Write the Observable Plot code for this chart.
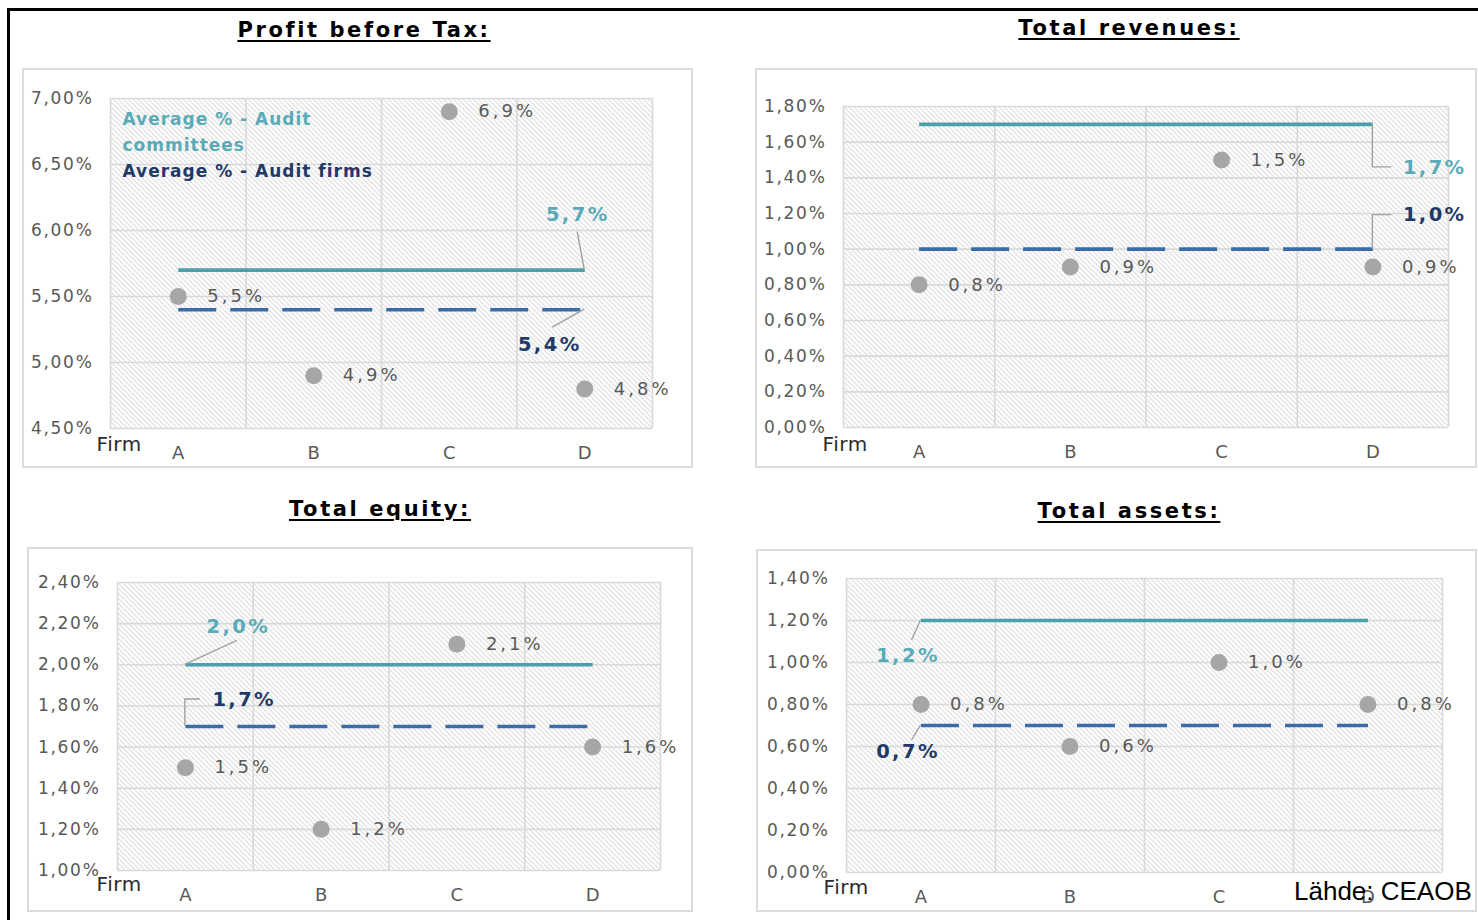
<!DOCTYPE html>
<html>
<head>
<meta charset="utf-8">
<script src="https://cdn.jsdelivr.net/npm/d3@7"></script>
<script src="https://cdn.jsdelivr.net/npm/@observablehq/plot@0.6"></script>
<style>
  html, body { margin: 0; padding: 0; background: #fff; }
  body { width: 1478px; height: 920px; position: relative; overflow: hidden; font-family: "DejaVu Sans", sans-serif; }
  .frame { position: absolute; left: 7px; top: 8px; width: 1500px; height: 940px; border-left: 3px solid #000; border-top: 3px solid #000; }
  .title { position: absolute; transform: translateX(-50%); font-weight: bold; font-size: 21px; line-height: 24px; letter-spacing: 2.6px; white-space: nowrap; color: #000; text-decoration: underline; text-decoration-thickness: 2px; text-underline-offset: 3px; }
  .panel { position: absolute; outline: 2px solid #dcdcdc; outline-offset: -2px; }
  .source { position: absolute; left: 1294px; top: 876px; font-family: "Liberation Sans", Arial, sans-serif; font-size: 26px; color: #000; white-space: nowrap; }
  g[aria-label="y-axis tick label"] text { letter-spacing: 1.7px; }
  text[aria-label="point-label"] { letter-spacing: 3px; }
  text[aria-label="average-label"] { letter-spacing: 2.4px; }
  text[aria-label="legend"] { letter-spacing: 1px; }
  text[aria-label="axis-name"] { letter-spacing: 0.6px; }
</style>
</head>
<body>
<div class="frame"></div>
<script>
// Firms on the horizontal axis
const firms = ["A", "B", "C", "D"];
const titles = ["Profit before Tax:", "Total revenues:", "Total equity:", "Total assets:"];
const legendLabels = ["Average % - Audit committees", "Average % - Audit firms"];
const axisName = "Firm";
const sourceText = "Lähde: CEAOB";

// Profit before tax, % per firm and the two averages
const profitFirms = [5.5, 4.9, 6.9, 4.8];
const profitCommittees = 5.7;
const profitAuditFirms = 5.4;
const profitTicks = [4.5, 5.0, 5.5, 6.0, 6.5, 7.0];

// Total revenues
const revenueFirms = [0.8, 0.9, 1.5, 0.9];
const revenueCommittees = 1.7;
const revenueAuditFirms = 1.0;
const revenueTicks = [0, 0.2, 0.4, 0.6, 0.8, 1.0, 1.2, 1.4, 1.6, 1.8];

// Total equity
const equityFirms = [1.5, 1.2, 2.1, 1.6];
const equityCommittees = 2.0;
const equityAuditFirms = 1.7;
const equityTicks = [1.0, 1.2, 1.4, 1.6, 1.8, 2.0, 2.2, 2.4];

// Total assets
const assetsFirms = [0.8, 0.6, 1.0, 0.8];
const assetsCommittees = 1.2;
const assetsAuditFirms = 0.7;
const assetsTicks = [0, 0.2, 0.4, 0.6, 0.8, 1.0, 1.2, 1.4];

const teal = "#4e9fac", tealText = "#5aabb8";
const blue = "#3a6da8", navyText = "#1f3a68";
const grid = "#d9d9d9", dotGray = "#a6a6a6", labelGray = "#595959";

const fmtTick = v => v.toFixed(2).replace(".", ",") + "%";
const fmtVal = v => v.toFixed(1).replace(".", ",") + "%";
const tag = name => () => name;

// Layout of each panel: box on the page, plot margins, annotation offsets (px)
const panels = [
  {
    title: titles[0], titleX: 364, titleY: 30,
    values: profitFirms, committee: profitCommittees, auditFirm: profitAuditFirms, ticks: profitTicks,
    box: {left: 22, top: 68, w: 671, h: 400}, m: {t: 30, r: 41, b: 40, l: 88},
    nameDx: -14, nameDy: 22, legend: true,
    teal: {at: 4, dx: -7, dy: -55, anchor: "middle", leader: [[0, 0], [-7, -38]]},
    navy: {at: 4, dx: -35, dy: 35, anchor: "middle", leader: [[0, 0], [-32, 18]]}
  },
  {
    title: titles[1], titleX: 1129, titleY: 28,
    values: revenueFirms, committee: revenueCommittees, auditFirm: revenueAuditFirms, ticks: revenueTicks,
    box: {left: 755, top: 68, w: 722, h: 400}, m: {t: 38, r: 29, b: 41, l: 88},
    nameDx: -21, nameDy: 23,
    teal: {at: 4, dx: 30, dy: 43, anchor: "start", leader: [[0, 0], [0, 43], [19, 43]]},
    navy: {at: 4, dx: 30, dy: -34, anchor: "start", leader: [[0, 0], [0, -34], [19, -34]]}
  },
  {
    title: titles[2], titleX: 380, titleY: 509,
    values: equityFirms, committee: equityCommittees, auditFirm: equityAuditFirms, ticks: equityTicks,
    box: {left: 27, top: 547, w: 666, h: 365}, m: {t: 35, r: 33, b: 42, l: 90},
    nameDx: -21, nameDy: 20,
    teal: {at: 1, dx: 53, dy: -38, anchor: "middle", leader: [[0, 0], [52, -24]]},
    navy: {at: 1, dx: 27, dy: -27, anchor: "start", leader: [[0, 0], [0, -27], [15, -27]]}
  },
  {
    title: titles[3], titleX: 1129, titleY: 511,
    values: assetsFirms, committee: assetsCommittees, auditFirm: assetsAuditFirms, ticks: assetsTicks,
    box: {left: 756, top: 549, w: 721, h: 363}, m: {t: 29, r: 35, b: 40, l: 90},
    nameDx: -23, nameDy: 21,
    teal: {at: 1, dx: -13, dy: 35, anchor: "middle", leader: [[0, 0], [-9, 20]]},
    navy: {at: 1, dx: -13, dy: 26, anchor: "middle", leader: [[0, 0], [-9, 15]]}
  }
];

panels.forEach((p, k) => {
  const t = document.createElement("div");
  t.className = "title";
  t.textContent = p.title;
  t.style.left = p.titleX + "px";
  t.style.top = (p.titleY - 12) + "px";
  document.body.appendChild(t);

  const pts = p.values.map((v, i) => ({i: i + 1, firm: firms[i], v}));
  const xs = firms.map((f, i) => i + 1);
  const bounds = [0.5, ...xs.map(x => x + 0.5)];
  const committeeLine = [{v: p.committee}];
  const auditFirmLine = [{v: p.auditFirm}];
  const ann = [
    {...p.teal, v: p.committee, fill: tealText},
    {...p.navy, v: p.auditFirm, fill: navyText}
  ];
  const hatchId = "hatch" + k;

  const marks = [
    Plot.frame({fill: `url(#${hatchId})`, stroke: null}),
    Plot.ruleX(bounds, {stroke: grid, strokeWidth: 1.6}),
    Plot.ruleY(p.ticks, {stroke: grid, strokeWidth: 1.6}),
    Plot.axisY(p.ticks, {tickSize: 0, tickPadding: 17, tickFormat: fmtTick, fontSize: 17, fill: labelGray, label: null}),
    Plot.axisX(xs, {tickSize: 0, tickPadding: 18, tickFormat: d => firms[d - 1], fontSize: 18, fill: labelGray, label: null}),
    Plot.text([axisName], {text: d => d, frameAnchor: "bottom-left", dx: p.nameDx, dy: p.nameDy, textAnchor: "start",
      fontSize: 20, fill: "#2b2b2b", ariaLabel: tag("axis-name")}),
    Plot.link(committeeLine, {
      x1: () => 1, x2: () => firms.length, y1: "v", y2: "v", stroke: teal, strokeWidth: 3.6
    }),
    Plot.link(auditFirmLine, {
      x1: () => 1, x2: () => firms.length, y1: "v", y2: "v", stroke: blue, strokeWidth: 3.6, strokeDasharray: "38,14"
    }),
    Plot.dot(pts, {x: "i", y: "v", r: 8.5, fill: dotGray, stroke: null}),
    Plot.text(pts, {x: "i", y: "v", text: d => fmtVal(d.v), dx: 29, textAnchor: "start", fontSize: 18,
      fill: labelGray, ariaLabel: tag("point-label")})
  ];
  ann.forEach(a => {
    marks.push(Plot.text([a], {x: "at", y: "v", text: d => fmtVal(d.v), dx: a.dx, dy: a.dy, textAnchor: a.anchor,
      fontSize: 19.5, fontWeight: "bold", fill: a.fill, ariaLabel: tag("average-label")}));
  });
  if (p.legend) {
    marks.push(Plot.text([legendLabels[0]], {text: d => d, frameAnchor: "top-left", dx: 12, dy: 8, lineAnchor: "top",
      lineWidth: 10, lineHeight: 1.53, fontSize: 17, fontWeight: "bold", fill: tealText, ariaLabel: tag("legend")}));
    marks.push(Plot.text([legendLabels[1]], {text: d => d, frameAnchor: "top-left", dx: 12, dy: 66, lineAnchor: "top",
      fontSize: 17, fontWeight: "bold", fill: navyText, ariaLabel: tag("legend")}));
  }

  const chart = Plot.plot({
    width: p.box.w, height: p.box.h,
    marginTop: p.m.t, marginRight: p.m.r, marginBottom: p.m.b, marginLeft: p.m.l,
    x: {type: "linear", domain: [0.5, firms.length + 0.5]},
    y: {type: "linear", domain: [p.ticks[0], p.ticks[p.ticks.length - 1]]},
    style: {fontFamily: "DejaVu Sans, sans-serif", background: "transparent", overflow: "visible"},
    marks
  });

  // diagonal hatch used as the plot-area fill
  chart.insertAdjacentHTML("afterbegin",
    `<defs><pattern id="${hatchId}" patternUnits="userSpaceOnUse" width="5" height="5">` +
    `<rect width="5" height="5" fill="#ffffff"/>` +
    `<path d="M-1,-1L6,6M-1,4L1,6M4,-1L6,1" stroke="#bfbfbf" stroke-width="0.9"/></pattern></defs>`);

  // leader lines from the average lines to their value labels
  const sx = chart.scale("x"), sy = chart.scale("y");
  ann.forEach(a => {
    const x0 = sx.apply(a.at), y0 = sy.apply(a.v);
    const path = d3.line()(a.leader.map(([dx, dy]) => [x0 + dx, y0 + dy]));
    d3.select(chart).append("path")
      .attr("d", path).attr("fill", "none")
      .attr("stroke", "#a0a0a0").attr("stroke-width", 1.4);
  });

  chart.classList.add("panel");
  chart.style.left = p.box.left + "px";
  chart.style.top = p.box.top + "px";
  document.body.appendChild(chart);
});

const src = document.createElement("div");
src.className = "source";
src.textContent = sourceText;
document.body.appendChild(src);
</script>
</body>
</html>
